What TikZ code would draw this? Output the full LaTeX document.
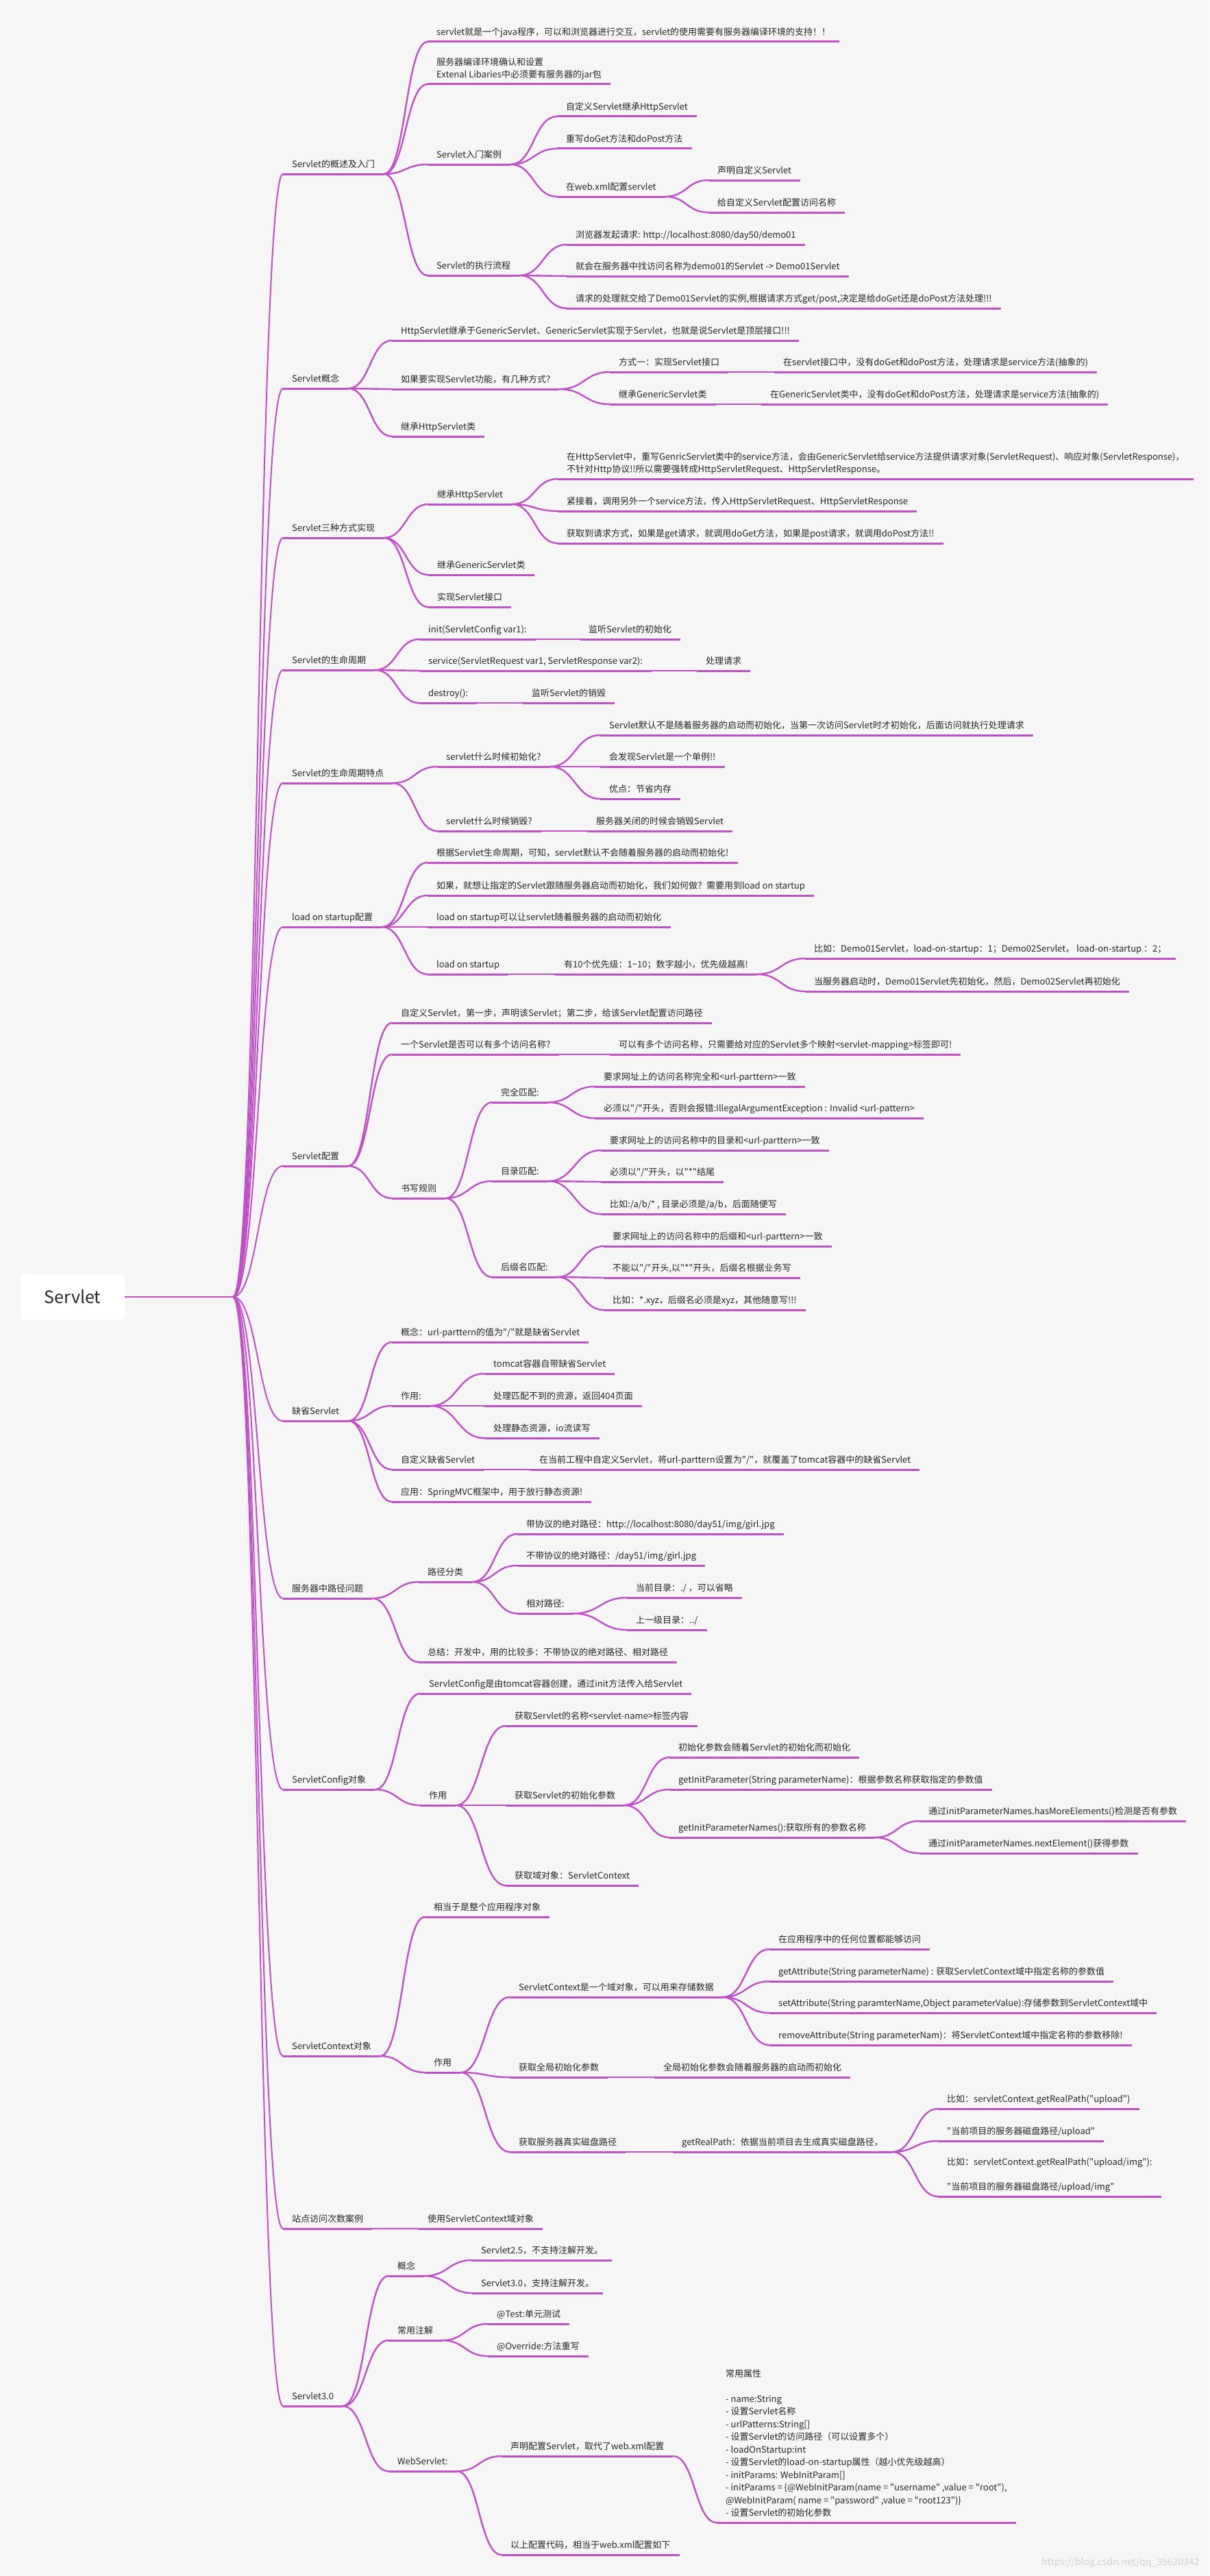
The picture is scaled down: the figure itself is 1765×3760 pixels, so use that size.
\documentclass[tikz,border=0pt]{standalone}
\usepackage{fontspec}
\setmainfont{Noto Sans CJK SC}[Ligatures=TeXOff]
\usetikzlibrary{calc}
\definecolor{mag}{RGB}{192,80,200}
\definecolor{bg}{RGB}{246,246,246}
\definecolor{txt}{RGB}{38,38,38}
\tikzset{
  topic/.style={anchor=south west, inner xsep=13pt, inner ysep=6pt, text height=10pt, text depth=3pt, font=\fontsize{13}{18.5}\selectfont, text=txt},
  topicm/.style={anchor=south west, inner xsep=13pt, inner ysep=6pt, text depth=3pt, align=left, font=\fontsize{13}{18.5}\selectfont, text=txt},
  uline/.style={draw=mag, line width=3pt},
  link/.style={draw=mag, line width=2.4pt, to path={let \p1=(\tikztostart), \p2=(\tikztotarget) in .. controls ({(\x1+\x2)/2},\y1) and ({(\x1+\x2)/2},\y2) .. (\tikztotarget)}},
  rlink/.style={link, line width=2pt},
  rootbox/.style={fill=white, rounded corners=6pt, minimum width=152pt, minimum height=67pt, font=\fontsize{25}{30}\selectfont, text=black!85},
  wmark/.style={anchor=east, font=\fontsize{14}{16}\selectfont, text=black!18}
}
\newcommand{\tpc}[4]{\node[topic] (#1) at (#2,#3) {#4};\draw[uline] (#1.south west) -- (#1.south east);}
\newcommand{\tpm}[4]{\node[topicm] (#1) at (#2,#3) {#4};\draw[uline] (#1.south west) -- (#1.south east);}
\newcommand{\lnk}[2]{\draw[link] (#1.south east) to (#2.south west);}
\begin{document}
\begin{tikzpicture}[x=1pt,y=-1pt]
\fill[bg] (0,0) rectangle (1765,3760);
\useasboundingbox (0,0) rectangle (1765,3760);
\node[rootbox] (root) at (106,1893) {Servlet};
\coordinate (hub) at (340,1893);
\draw[rlink] (root.east) -- (hub);
% level 1
\tpc{a1}{413}{254}{Servlet的概述及入门}
\tpc{a2}{413}{567}{Servlet概念}
\tpc{a3}{413}{785}{Servlet三种方式实现}
\tpc{a4}{413}{978}{Servlet的生命周期}
\tpc{a5}{413}{1143}{Servlet的生命周期特点}
\tpc{a6}{413}{1353}{load on startup配置}
\tpc{a7}{413}{1702}{Servlet配置}
\tpc{a8}{413}{2074}{缺省Servlet}
\tpc{a9}{413}{2333}{服务器中路径问题}
\tpc{a10}{413}{2612}{ServletConfig对象}
\tpc{a11}{413}{3001}{ServletContext对象}
\tpc{a12}{413}{3253}{站点访问次数案例}
\tpc{a13}{413}{3512}{Servlet3.0}
\foreach \q in {a1,a2,a3,a4,a5,a6,a7,a8,a9,a10,a11,a12,a13} {\draw[rlink] (hub) to (\q.south west);}
% a1
\tpc{b11}{624}{61}{servlet就是一个java程序，可以和浏览器进行交互，servlet的使用需要有服务器编译环境的支持！！}
\tpm{b12}{624}{123}{服务器编译环境确认和设置\\Extenal Libaries中必须要有服务器的jar包}
\tpc{b13}{624}{240}{Servlet入门案例}
\tpc{c131}{813}{170}{自定义Servlet继承HttpServlet}
\tpc{c132}{813}{217}{重写doGet方法和doPost方法}
\tpc{c133}{813}{287}{在web.xml配置servlet}
\tpc{d1331}{1034}{263}{声明自定义Servlet}
\tpc{d1332}{1034}{310}{给自定义Servlet配置访问名称}
\tpc{b14}{624}{402}{Servlet的执行流程}
\tpc{c141}{827}{357}{浏览器发起请求: http://localhost:8080/day50/demo01}
\tpc{c142}{827}{403}{就会在服务器中找访问名称为demo01的Servlet -> Demo01Servlet}
\tpc{c143}{827}{450}{请求的处理就交给了Demo01Servlet的实例,根据请求方式get/post,决定是给doGet还是doPost方法处理!!!}
\lnk{a1}{b11}\lnk{a1}{b12}\lnk{a1}{b13}\lnk{a1}{b14}
\lnk{b13}{c131}\lnk{b13}{c132}\lnk{b13}{c133}
\lnk{c133}{d1331}\lnk{c133}{d1332}
\lnk{b14}{c141}\lnk{b14}{c142}\lnk{b14}{c143}
% a2
\tpc{b21}{572}{497}{HttpServlet继承于GenericServlet、GenericServlet实现于Servlet，也就是说Servlet是顶层接口!!!}
\tpc{b22}{572}{568}{如果要实现Servlet功能，有几种方式?}
\tpc{c221}{890}{543}{方式一：实现Servlet接口}
\tpc{d2211}{1130}{543}{在servlet接口中，没有doGet和doPost方法，处理请求是service方法(抽象的)}
\tpc{c222}{890}{590}{继承GenericServlet类}
\tpc{d2221}{1111}{590}{在GenericServlet类中，没有doGet和doPost方法，处理请求是service方法(抽象的)}
\tpc{b23}{572}{637}{继承HttpServlet类}
\lnk{a2}{b21}\lnk{a2}{b22}\lnk{a2}{b23}
\lnk{b22}{c221}\lnk{b22}{c222}\lnk{c221}{d2211}\lnk{c222}{d2221}
% a3
\tpc{b31}{625}{736}{继承HttpServlet}
\tpm{c311}{814}{699}{在HttpServlet中，重写GenricServlet类中的service方法，会由GenericServlet给service方法提供请求对象(ServletRequest)、响应对象(ServletResponse)，\\不针对Http协议!!所以需要强转成HttpServletRequest、HttpServletResponse。}
\tpc{c312}{814}{746}{紧接着，调用另外一个service方法，传入HttpServletRequest、HttpServletResponse}
\tpc{c313}{814}{793}{获取到请求方式，如果是get请求，就调用doGet方法，如果是post请求，就调用doPost方法!!}
\tpc{b32}{625}{839}{继承GenericServlet类}
\tpc{b33}{625}{886}{实现Servlet接口}
\lnk{a3}{b31}\lnk{a3}{b32}\lnk{a3}{b33}
\lnk{b31}{c311}\lnk{b31}{c312}\lnk{b31}{c313}
% a4
\tpc{b41}{612}{933}{init(ServletConfig var1):}
\tpc{c411}{846}{933}{监听Servlet的初始化}
\tpc{b42}{612}{979}{service(ServletRequest var1, ServletResponse var2):}
\tpc{c421}{1017}{979}{处理请求}
\tpc{b43}{612}{1026}{destroy():}
\tpc{c431}{763}{1026}{监听Servlet的销毁}
\lnk{a4}{b41}\lnk{a4}{b42}\lnk{a4}{b43}
\lnk{b41}{c411}\lnk{b42}{c421}\lnk{b43}{c431}
% a5
\tpc{b51}{638}{1119}{servlet什么时候初始化?}
\tpc{c511}{876}{1073}{Servlet默认不是随着服务器的启动而初始化，当第一次访问Servlet时才初始化，后面访问就执行处理请求}
\tpc{c512}{876}{1119}{会发现Servlet是一个单例!!}
\tpc{c513}{876}{1166}{优点：节省内存}
\tpc{b52}{638}{1213}{servlet什么时候销毁?}
\tpc{c521}{857}{1213}{服务器关闭的时候会销毁Servlet}
\lnk{a5}{b51}\lnk{a5}{b52}
\lnk{b51}{c511}\lnk{b51}{c512}\lnk{b51}{c513}\lnk{b52}{c521}
% a6
\tpc{b61}{624}{1259}{根据Servlet生命周期，可知，servlet默认不会随着服务器的启动而初始化!}
\tpc{b62}{624}{1307}{如果，就想让指定的Servlet跟随服务器启动而初始化，我们如何做？需要用到load on startup}
\tpc{b63}{624}{1353}{load on startup可以让servlet随着服务器的启动而初始化}
\tpc{b64}{624}{1422}{load on startup}
\tpc{c641}{810}{1422}{有10个优先级：1\textasciitilde 10；数字越小，优先级越高!}
\tpc{d6411}{1175}{1399}{比如：Demo01Servlet，load-on-startup：1；Demo02Servlet， load-on-startup ：2；}
\tpc{d6412}{1175}{1447}{当服务器启动时，Demo01Servlet先初始化，然后，Demo02Servlet再初始化}
\lnk{a6}{b61}\lnk{a6}{b62}\lnk{a6}{b63}\lnk{a6}{b64}
\lnk{b64}{c641}\lnk{c641}{d6411}\lnk{c641}{d6412}
% a7
\tpc{b71}{572}{1493}{自定义Servlet，第一步，声明该Servlet；第二步，给该Servlet配置访问路径}
\tpc{b72}{572}{1539}{一个Servlet是否可以有多个访问名称?}
\tpc{c721}{890}{1539}{可以有多个访问名称，只需要给对应的Servlet多个映射<servlet-mapping>标签即可!}
\tpc{b73}{572}{1749}{书写规则}
\tpc{c731}{718}{1609}{完全匹配:}
\tpc{d7311}{868}{1586}{要求网址上的访问名称完全和<url-parttern>一致}
\tpc{d7312}{868}{1632}{必须以"/"开头，否则会报错:IllegalArgumentException : Invalid <url-pattern>}
\tpc{c732}{718}{1724}{目录匹配:}
\tpc{d7321}{877}{1679}{要求网址上的访问名称中的目录和<url-parttern>一致}
\tpc{d7322}{877}{1725}{必须以"/"开头，以"*"结尾}
\tpc{d7323}{877}{1772}{比如:/a/b/* , 目录必须是/a/b，后面随便写}
\tpc{c733}{718}{1864}{后缀名匹配:}
\tpc{d7331}{881}{1819}{要求网址上的访问名称中的后缀和<url-parttern>一致}
\tpc{d7332}{881}{1865}{不能以"/"开头,以"*"开头，后缀名根据业务写}
\tpc{d7333}{881}{1912}{比如：*.xyz，后缀名必须是xyz，其他随意写!!!}
\lnk{a7}{b71}\lnk{a7}{b72}\lnk{a7}{b73}\lnk{b72}{c721}
\lnk{b73}{c731}\lnk{b73}{c732}\lnk{b73}{c733}
\lnk{c731}{d7311}\lnk{c731}{d7312}
\lnk{c732}{d7321}\lnk{c732}{d7322}\lnk{c732}{d7323}
\lnk{c733}{d7331}\lnk{c733}{d7332}\lnk{c733}{d7333}
% a8
\tpc{b81}{572}{1959}{概念：url-parttern的值为"/"就是缺省Servlet}
\tpc{b82}{572}{2052}{作用:}
\tpc{c821}{707}{2005}{tomcat容器自带缺省Servlet}
\tpc{c822}{707}{2052}{处理匹配不到的资源，返回404页面}
\tpc{c823}{707}{2099}{处理静态资源，io流读写}
\tpc{b83}{572}{2145}{自定义缺省Servlet}
\tpc{c831}{774}{2145}{在当前工程中自定义Servlet，将url-parttern设置为"/"，就覆盖了tomcat容器中的缺省Servlet}
\tpc{b84}{572}{2192}{应用：SpringMVC框架中，用于放行静态资源!}
\lnk{a8}{b81}\lnk{a8}{b82}\lnk{a8}{b83}\lnk{a8}{b84}
\lnk{b82}{c821}\lnk{b82}{c822}\lnk{b82}{c823}\lnk{b83}{c831}
% a9
\tpc{b91}{611}{2309}{路径分类}
\tpc{c911}{755}{2239}{带协议的绝对路径：http://localhost:8080/day51/img/girl.jpg}
\tpc{c912}{755}{2285}{不带协议的绝对路径：/day51/img/girl.jpg}
\tpc{c913}{755}{2355}{相对路径:}
\tpc{d9131}{915}{2332}{当前目录：./ ，可以省略}
\tpc{d9132}{915}{2379}{上一级目录：../}
\tpc{b92}{611}{2426}{总结：开发中，用的比较多：不带协议的绝对路径、相对路径}
\lnk{a9}{b91}\lnk{a9}{b92}
\lnk{b91}{c911}\lnk{b91}{c912}\lnk{b91}{c913}
\lnk{c913}{d9131}\lnk{c913}{d9132}
% a10
\tpc{b101}{613}{2472}{ServletConfig是由tomcat容器创建，通过init方法传入给Servlet}
\tpc{b102}{613}{2635}{作用}
\tpc{c1021}{738}{2519}{获取Servlet的名称<servlet-name>标签内容}
\tpc{c1022}{738}{2635}{获取Servlet的初始化参数}
\tpc{d10221}{977}{2565}{初始化参数会随着Servlet的初始化而初始化}
\tpc{d10222}{977}{2612}{getInitParameter(String parameterName)：根据参数名称获取指定的参数值}
\tpc{d10223}{977}{2682}{getInitParameterNames():获取所有的参数名称}
\tpc{e1}{1342}{2658}{通过initParameterNames.hasMoreElements()检测是否有参数}
\tpc{e2}{1342}{2705}{通过initParameterNames.nextElement()获得参数}
\tpc{c1023}{738}{2752}{获取域对象：ServletContext}
\lnk{a10}{b101}\lnk{a10}{b102}
\lnk{b102}{c1021}\lnk{b102}{c1022}\lnk{b102}{c1023}
\lnk{c1022}{d10221}\lnk{c1022}{d10222}\lnk{c1022}{d10223}
\lnk{d10223}{e1}\lnk{d10223}{e2}
% a11
\tpc{b111}{620}{2798}{相当于是整个应用程序对象}
\tpc{b112}{620}{3025}{作用}
\tpc{c1121}{744}{2915}{ServletContext是一个域对象，可以用来存储数据}
\tpc{d11211}{1123}{2845}{在应用程序中的任何位置都能够访问}
\tpc{d11212}{1123}{2892}{getAttribute(String parameterName) : 获取ServletContext域中指定名称的参数值}
\tpc{d11213}{1123}{2938}{setAttribute(String paramterName,Object parameterValue):存储参数到ServletContext域中}
\tpc{d11214}{1123}{2985}{removeAttribute(String parameterNam)：将ServletContext域中指定名称的参数移除!}
\tpc{c1122}{744}{3032}{获取全局初始化参数}
\tpc{d11221}{955}{3032}{全局初始化参数会随着服务器的启动而初始化}
\tpc{c1123}{744}{3141}{获取服务器真实磁盘路径}
\tpc{d11231}{982}{3141}{getRealPath：依据当前项目去生成真实磁盘路径，}
\tpc{e11}{1369}{3078}{比如：servletContext.getRealPath("upload")}
\tpc{e12}{1369}{3125}{"当前项目的服务器磁盘路径/upload"}
\tpm{e13}{1369}{3206}{比如：servletContext.getRealPath("upload/img"):\\[18pt]"当前项目的服务器磁盘路径/upload/img"}
\lnk{a11}{b111}\lnk{a11}{b112}
\lnk{b112}{c1121}\lnk{b112}{c1122}\lnk{b112}{c1123}
\lnk{c1121}{d11211}\lnk{c1121}{d11212}\lnk{c1121}{d11213}\lnk{c1121}{d11214}
\lnk{c1122}{d11221}\lnk{c1123}{d11231}
\lnk{d11231}{e11}\lnk{d11231}{e12}\lnk{d11231}{e13}
% a12
\tpc{b121}{611}{3253}{使用ServletContext域对象}
\lnk{a12}{b121}
% a13
\tpc{b131}{567}{3322}{概念}
\tpc{c1311}{689}{3299}{Servlet2.5，不支持注解开发。}
\tpc{c1312}{689}{3347}{Servlet3.0，支持注解开发。}
\tpc{b132}{567}{3416}{常用注解}
\tpc{c1321}{712}{3392}{@Test:单元测试}
\tpc{c1322}{712}{3439}{@Override:方法重写}
\tpc{b133}{567}{3607}{WebServlet:}
\tpc{c1331}{732}{3585}{声明配置Servlet，取代了web.xml配置}
\tpm{d13311}{1046}{3682}{常用属性\\[18pt]- name:String\\- 设置Servlet名称\\- urlPatterns:String[]\\- 设置Servlet的访问路径（可以设置多个）\\- loadOnStartup:int\\- 设置Servlet的load-on-startup属性（越小优先级越高）\\- initParams: WebInitParam[]\\- initParams = \{@WebInitParam(name = "username" ,value = "root"),\\@WebInitParam( name = "password" ,value = "root123")\}\\- 设置Servlet的初始化参数}
\tpc{c1332}{732}{3729}{以上配置代码，相当于web.xml配置如下}
\lnk{a13}{b131}\lnk{a13}{b132}\lnk{a13}{b133}
\lnk{b131}{c1311}\lnk{b131}{c1312}
\lnk{b132}{c1321}\lnk{b132}{c1322}
\lnk{b133}{c1331}\lnk{b133}{c1332}
\lnk{c1331}{d13311}
\node[wmark] (wm) at (1754,3741) {https://blog.csdn.net/qq\_35620342};
\end{tikzpicture}
\end{document}
